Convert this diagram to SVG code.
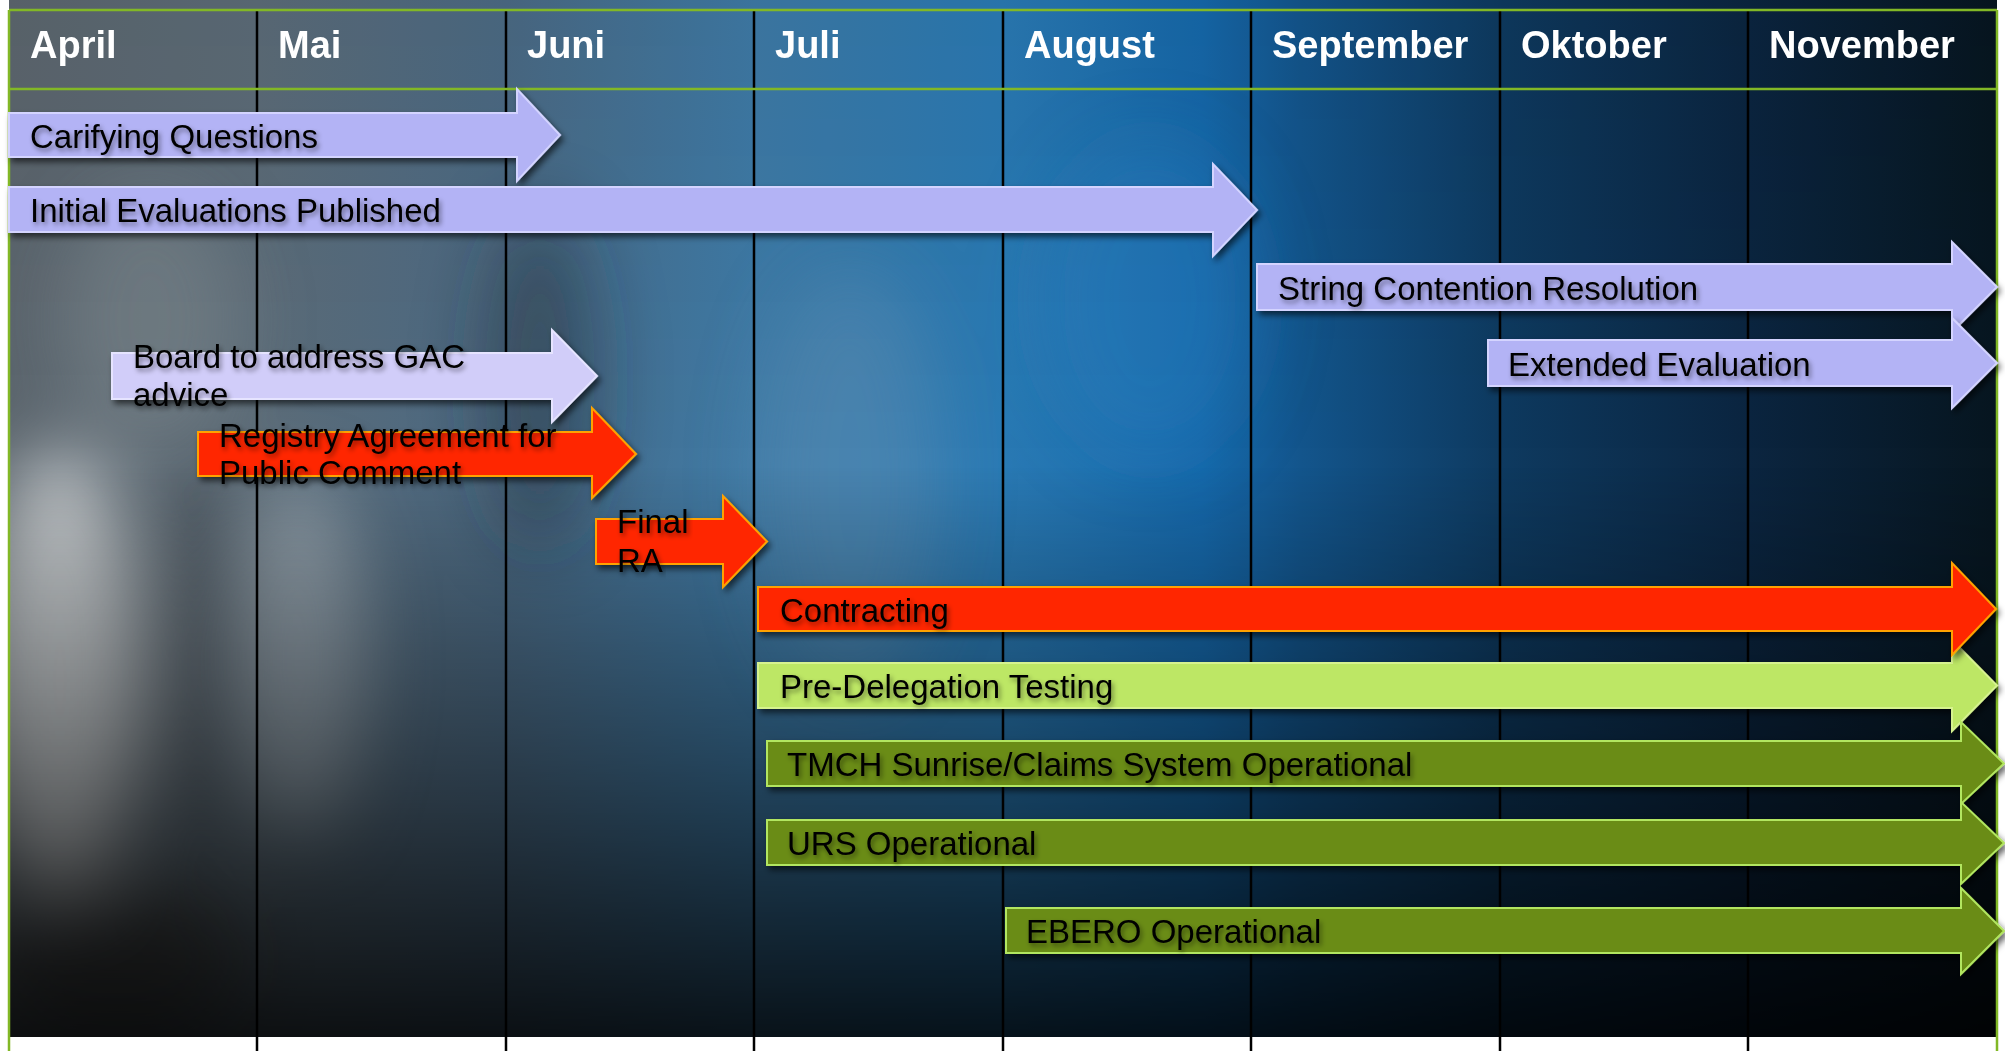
<svg xmlns="http://www.w3.org/2000/svg" width="2005" height="1051" viewBox="0 0 2005 1051">
  <defs>
    <linearGradient id="bgH" x1="9" y1="0" x2="1997" y2="0" gradientUnits="userSpaceOnUse">
      <stop offset="0" stop-color="#5c666e"/>
      <stop offset="0.125" stop-color="#5c6c78"/>
      <stop offset="0.25" stop-color="#4b6a84"/>
      <stop offset="0.375" stop-color="#3e7aa6"/>
      <stop offset="0.5" stop-color="#2a7ab4"/>
      <stop offset="0.6" stop-color="#1668aa"/>
      <stop offset="0.65" stop-color="#13558c"/>
      <stop offset="0.75" stop-color="#0e3a60"/>
      <stop offset="0.875" stop-color="#0b2540"/>
      <stop offset="1" stop-color="#071620"/>
    </linearGradient>
    <linearGradient id="bgV" x1="0" y1="0" x2="0" y2="1037" gradientUnits="userSpaceOnUse">
      <stop offset="0" stop-color="#000" stop-opacity="0.05"/>
      <stop offset="0.45" stop-color="#000" stop-opacity="0"/>
      <stop offset="0.75" stop-color="#000" stop-opacity="0.45"/>
      <stop offset="1" stop-color="#000" stop-opacity="0.85"/>
    </linearGradient>
    <clipPath id="bgClip">
      <rect x="9" y="0" width="1988" height="1037"/>
    </clipPath>
    <filter id="blur" x="-100%" y="-100%" width="300%" height="300%">
      <feGaussianBlur stdDeviation="35"/>
    </filter>
    <filter id="shadow" x="-5%" y="-30%" width="110%" height="160%">
      <feDropShadow dx="3" dy="4" stdDeviation="3" flood-color="#000" flood-opacity="0.6"/>
    </filter>
    <filter id="tshadow" x="-5%" y="-30%" width="110%" height="160%">
      <feDropShadow dx="2" dy="3" stdDeviation="2.5" flood-color="#000" flood-opacity="0.45"/>
    </filter>
  </defs>
  <style>
    .month { font-family: "Liberation Sans", Arial, sans-serif; font-weight: bold; font-size: 38px; fill: #ffffff; }
    .lbl { font-family: "Liberation Sans", Arial, sans-serif; font-size: 33px; fill: #000000; filter: url(#tshadow); }
    .grid { stroke: #000000; stroke-width: 2.5; }
    .green { stroke: #82b826; stroke-width: 2.5; fill: none; }
    .lav { fill: #b3b3f5; stroke: #d4d4ff; stroke-width: 2; filter: url(#shadow); }
    .lav2 { fill: #d1cdf9; stroke: #e6e4ff; stroke-width: 2; filter: url(#shadow); }
    .red { fill: #ff2600; stroke: #ffa200; stroke-width: 2; filter: url(#shadow); }
    .lgreen { fill: #bde765; stroke: #d6f28f; stroke-width: 2; filter: url(#shadow); }
    .olive { fill: #6a8c17; stroke: #b2e660; stroke-width: 2; filter: url(#shadow); }
  </style>

  <rect x="0" y="0" width="2005" height="1051" fill="#ffffff"/>
  <g id="background" clip-path="url(#bgClip)">
    <rect x="9" y="0" width="1988" height="1037" fill="url(#bgH)"/>
    <g filter="url(#blur)">
      <ellipse cx="60" cy="680" rx="80" ry="230" fill="#dcdee0" opacity="0.8"/>
      <ellipse cx="300" cy="660" rx="65" ry="180" fill="#b0bcc5" opacity="0.6"/>
      <ellipse cx="150" cy="320" rx="90" ry="130" fill="#8a9398" opacity="0.4"/>
      <ellipse cx="200" cy="640" rx="35" ry="200" fill="#2a2e36" opacity="0.35"/>
      <ellipse cx="540" cy="380" rx="55" ry="170" fill="#1e2a36" opacity="0.45"/>
      <ellipse cx="850" cy="480" rx="90" ry="210" fill="#6a96b8" opacity="0.35"/>
      <ellipse cx="1150" cy="300" rx="110" ry="160" fill="#2a86c8" opacity="0.3"/>
      <ellipse cx="120" cy="960" rx="120" ry="80" fill="#3a302c" opacity="0.5"/>
    </g>
    <rect x="9" y="0" width="1988" height="1037" fill="url(#bgV)"/>
  </g>

  <g id="grid">
    <line class="grid" x1="257" y1="10" x2="257" y2="1051"/>
    <line class="grid" x1="506" y1="10" x2="506" y2="1051"/>
    <line class="grid" x1="754" y1="10" x2="754" y2="1051"/>
    <line class="grid" x1="1003" y1="10" x2="1003" y2="1051"/>
    <line class="grid" x1="1251" y1="10" x2="1251" y2="1051"/>
    <line class="grid" x1="1500" y1="10" x2="1500" y2="1051"/>
    <line class="grid" x1="1748" y1="10" x2="1748" y2="1051"/>
    <line class="green" x1="9" y1="10" x2="1997" y2="10"/>
    <line class="green" x1="9" y1="89" x2="1997" y2="89"/>
    <line class="green" x1="9" y1="10" x2="9" y2="1051"/>
    <line class="green" x1="1997" y1="10" x2="1997" y2="1051"/>
  </g>

  <g id="header">
    <text class="month" x="30" y="58">April</text>
    <text class="month" x="278" y="58">Mai</text>
    <text class="month" x="527" y="58">Juni</text>
    <text class="month" x="775" y="58">Juli</text>
    <text class="month" x="1024" y="58">August</text>
    <text class="month" x="1272" y="58">September</text>
    <text class="month" x="1521" y="58">Oktober</text>
    <text class="month" x="1769" y="58">November</text>
  </g>

  <g id="connectors"></g>

  <g id="carifying-questions">
    <polygon class="lav" points="9,113 517,113 517,89 560,135 517,181 517,157 9,157"/>
    <text class="lbl" x="30" y="148">Carifying Questions</text>
  </g>
  <g id="initial-evaluations">
    <polygon class="lav" points="9,187 1213,187 1213,164 1257,210 1213,256 1213,232 9,232"/>
    <text class="lbl" x="30" y="222">Initial Evaluations Published</text>
  </g>
  <g id="string-contention">
    <polygon class="lav" points="1257,264 1952,264 1952,242 1997,287 1952,332 1952,310 1257,310"/>
    <text class="lbl" x="1278" y="300">String Contention Resolution</text>
  </g>
  <g id="extended-evaluation">
    <polygon class="lav" points="1488,340 1952,340 1952,318 1997,363 1952,408 1952,386 1488,386"/>
    <text class="lbl" x="1508" y="376">Extended Evaluation</text>
  </g>
  <g id="board-gac">
    <polygon class="lav2" points="112,353 552,353 552,330 597,376 552,422 552,399 112,399"/>
    <text class="lbl" x="133" y="368">Board to address GAC</text>
    <text class="lbl" x="133" y="406">advice</text>
  </g>
  <g id="registry-agreement">
    <polygon class="red" points="198,432 592,432 592,408 636,454 592,498 592,476 198,476"/>
    <text class="lbl" x="219" y="447">Registry Agreement for</text>
    <text class="lbl" x="219" y="484">Public Comment</text>
  </g>
  <g id="final-ra">
    <polygon class="red" points="596,519 723,519 723,496 767,541.5 723,587 723,564 596,564"/>
    <text class="lbl" x="617" y="533">Final</text>
    <text class="lbl" x="617" y="572">RA</text>
  </g>
  <g id="pre-delegation">
    <polygon class="lgreen" points="758,663 1952,663 1952,640 1997,685.5 1952,731 1952,708 758,708"/>
    <text class="lbl" x="780" y="698">Pre-Delegation Testing</text>
  </g>
  <g id="contracting">
    <polygon class="red" points="758,587 1952,587 1952,563 1996,609 1952,655 1952,631 758,631"/>
    <text class="lbl" x="780" y="622">Contracting</text>
  </g>
  <g id="tmch">
    <polygon class="olive" points="767,741 1961,741 1961,722 2004,763.5 1961,804 1961,786 767,786"/>
    <text class="lbl" x="787" y="776">TMCH Sunrise/Claims System Operational</text>
  </g>
  <g id="urs">
    <polygon class="olive" points="767,820 1961,820 1961,802 2004,843 1961,884 1961,865 767,865"/>
    <text class="lbl" x="787" y="855">URS Operational</text>
  </g>
  <g id="ebero">
    <polygon class="olive" points="1006,908 1961,908 1961,888 2004,931 1961,974 1961,953 1006,953"/>
    <text class="lbl" x="1026" y="943">EBERO Operational</text>
  </g>
</svg>
